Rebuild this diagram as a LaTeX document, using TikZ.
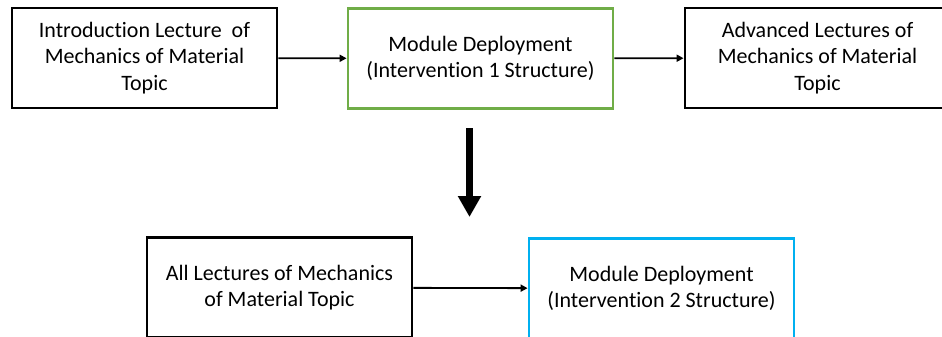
\documentclass[tikz,border=0pt]{standalone}
\usepackage{fontspec}
\setmainfont[Ligatures=NoCommon]{Carlito}
\usetikzlibrary{
	arrows.meta,
	calc
}
\definecolor{boxgreen}{RGB}{112,173,71}
\definecolor{boxblue}{RGB}{0,176,240}

\begin{document}
\begin{tikzpicture}[
    x=1pt, y=-1pt,
    box/.style = { draw,line width=2.8pt,minimum width=+265pt,minimum height=+100pt,align=center,
                   font=\fontsize{22}{26.5}\selectfont },
    arrowstyle/.style = { -{Triangle[width=7pt,length=7pt]},line width=1.8pt },
    bigarrow/.style = { -{Triangle[width=22pt,length=21pt]},line width=7pt }
    ]
    \useasboundingbox (0,0) rectangle (942,337);
    \clip (0,0) rectangle (942,337);
    % Definitions
    \coordinate (intro) at (144.5, 58  );
    \coordinate (mod1)  at (480.5, 58.5);
    \coordinate (adv)   at (817.5, 58  );
    \coordinate (all)   at (279.5,287.5);
    \coordinate (mod2)  at (661.5,288.5);
    \coordinate (dtop)  at (469.5,128  );
    \coordinate (dbot)  at (469.5,217  );
    % Nodes
    \node(I)  at (intro) [box]                 {Introduction Lecture~ of\\Mechanics of Material\\Topic};
    \node(M1) at (mod1)  [box,draw=boxgreen]   {Module Deployment\\(Intervention 1 Structure)};
    \node(A)  at (adv)   [box]                 {Advanced Lectures of\\Mechanics of Material\\Topic};
    \node(L)  at (all)   [box]                 {All Lectures of Mechanics\\of Material Topic};
    \node(M2) at (mod2)  [box,draw=boxblue]    {Module Deployment\\(Intervention 2 Structure)};
    % Arrows
    \draw[arrowstyle] (I)    -- (M1);
    \draw[arrowstyle] (M1)   -- (A);
    \draw[arrowstyle] (L)    -- (M2);
    \draw[bigarrow]   (dtop) -- (dbot);
\end{tikzpicture}
\end{document}
